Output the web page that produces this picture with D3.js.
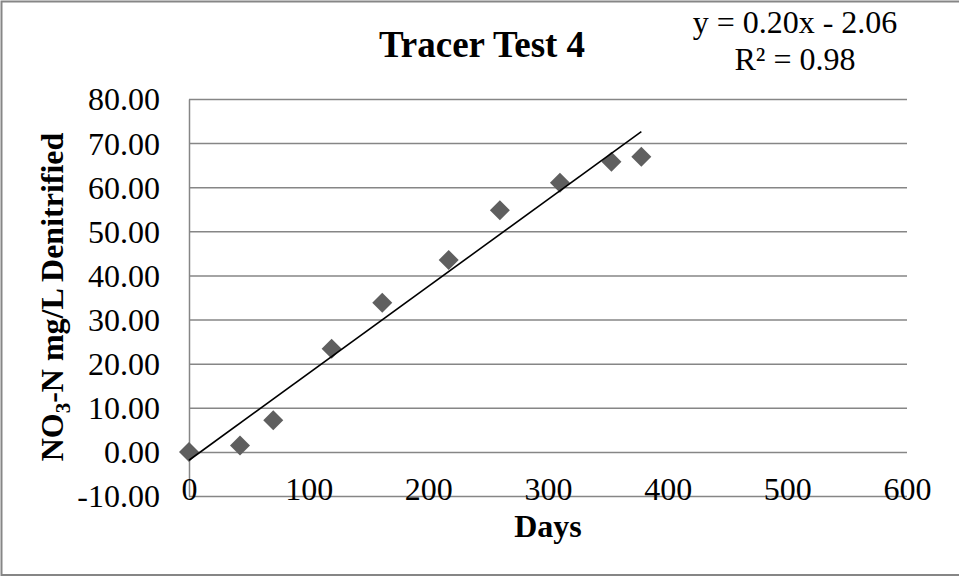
<!DOCTYPE html>
<html>
<head>
<meta charset="utf-8">
<script src="https://cdn.jsdelivr.net/npm/d3@7"></script>
<style>
  body { margin: 0; background: #fff; }
  svg { display: block; font-family: "Liberation Serif", "Times New Roman", serif; }
</style>
</head>
<body>
<div id="chart"></div>
<script>
// data
var days = [0, 42.6, 70.4, 119.2, 161.5, 217, 259.8, 310, 353, 378];
var no3n = [0, 1.45, 7.2, 23.4, 33.8, 43.5, 54.8, 61.0, 65.8, 66.9];
var xTicks = [0, 100, 200, 300, 400, 500, 600];
var yTicks = [-10, 0, 10, 20, 30, 40, 50, 60, 70, 80];
var trendLabel = ["y = 0.20x - 2.06", "R\u00b2 = 0.98"];

var W = 959, H = 577;
var plot = {left: 189, right: 907, top: 99, bottom: 496};
var serif = "'Liberation Serif', 'Times New Roman', serif";

var svg = d3.select("#chart").append("svg")
  .attr("width", W)
  .attr("height", H);

// outer chart border (right side is cut off in the original)
svg.append("rect")
  .attr("x", 1.5).attr("y", 1.5)
  .attr("width", W + 10).attr("height", 573.5)
  .attr("fill", "#fff")
  .attr("stroke", "#868686")
  .attr("stroke-width", 2);

var x = d3.scaleLinear().domain([0, 600]).range([plot.left, plot.right]);
var y = d3.scaleLinear().domain([-10, 80]).range([plot.bottom, plot.top]);

// y axis + gridlines
var yAxis = svg.append("g")
  .attr("transform", "translate(" + plot.left + ",0)")
  .call(d3.axisLeft(y)
    .tickValues(yTicks)
    .tickSize(-(plot.right - plot.left))
    .tickSizeOuter(0)
    .tickPadding(29)
    .tickFormat(function(d) { return d.toFixed(2); }))
  .attr("font-family", serif)
  .attr("font-size", 32);
yAxis.select(".domain").attr("stroke", "#868686").attr("stroke-width", 1.5);
yAxis.selectAll(".tick line").attr("stroke", "#868686").attr("stroke-width", 1.5);
yAxis.selectAll("text")
  .attr("fill", "#000")
  .attr("dy", "0.34em");

// x axis labels (they sit on the -10 gridline like in the original)
var xAxis = svg.append("g")
  .attr("transform", "translate(0," + plot.bottom + ")")
  .call(d3.axisBottom(x).tickValues(xTicks).tickSize(0).tickFormat(d3.format("d")))
  .attr("font-family", serif)
  .attr("font-size", 32);
xAxis.select(".domain").remove();
xAxis.selectAll("text")
  .attr("fill", "#000")
  .attr("y", 4)
  .attr("dy", null);

// linear trendline from least squares on the data
var n = days.length;
var mx = d3.mean(days), my = d3.mean(no3n);
var sxy = 0, sxx = 0;
for (var i = 0; i < n; i++) {
  sxy += (days[i] - mx) * (no3n[i] - my);
  sxx += (days[i] - mx) * (days[i] - mx);
}
var slope = sxy / sxx, icpt = my - slope * mx;
var x0 = d3.min(days), x1 = d3.max(days);

// markers
var pts = days.map(function(d, i) { return {x: d, y: no3n[i]}; });
svg.append("g").selectAll("path")
  .data(pts)
  .enter().append("path")
  .attr("d", d3.symbol(d3.symbolSquare, 200))
  .attr("transform", function(d) { return "translate(" + x(d.x) + "," + y(d.y) + ") rotate(45)"; })
  .attr("fill", "#5f5f5f");

svg.append("line")
  .attr("x1", x(x0)).attr("y1", y(slope * x0 + icpt))
  .attr("x2", x(x1)).attr("y2", y(slope * x1 + icpt))
  .attr("stroke", "#000")
  .attr("stroke-width", 1.6);

// title
svg.append("text")
  .attr("x", 482).attr("y", 57)
  .attr("text-anchor", "middle")
  .attr("font-size", 37)
  .attr("font-weight", "bold")
  .text("Tracer Test 4");

// trendline equation
svg.append("g").selectAll("text")
  .data(trendLabel)
  .enter().append("text")
  .attr("x", 795)
  .attr("y", function(d, i) { return 33 + i * 37; })
  .attr("text-anchor", "middle")
  .attr("font-size", 32)
  .text(function(d) { return d; });

// axis titles
svg.append("text")
  .attr("x", 548).attr("y", 537)
  .attr("text-anchor", "middle")
  .attr("font-size", 32)
  .attr("font-weight", "bold")
  .text("Days");

var yt = svg.append("text")
  .attr("transform", "translate(63,297) rotate(-90)")
  .attr("text-anchor", "middle")
  .attr("font-size", 32)
  .attr("font-weight", "bold");
yt.append("tspan").text("NO");
yt.append("tspan").attr("font-size", 21).attr("dy", 7).text("3");
yt.append("tspan").attr("dy", -7).text("-N mg/L Denitrified");
</script>
</body>
</html>
